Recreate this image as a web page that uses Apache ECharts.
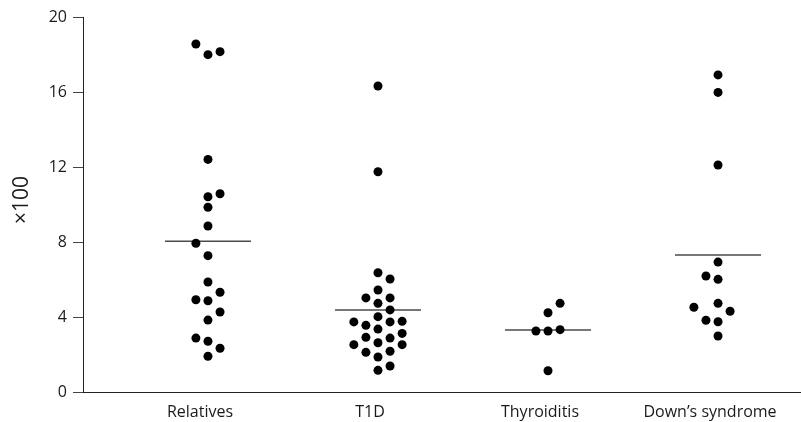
<!DOCTYPE html>
<html>
<head>
<meta charset="utf-8">
<script src="https://cdn.jsdelivr.net/npm/echarts@6/dist/echarts.min.js"></script>
<style>html,body{margin:0;padding:0;background:#fff}#c{width:801px;height:422px}</style>
</head>
<body>
<div id="c"></div>
<script>
const categories = ['Relatives', 'T1D', 'Thyroiditis', 'Down\u2019s syndrome'];
const yTicks = [0, 4, 8, 12, 16, 20];

const relativesValues = [18.58, 18.01, 18.17, 12.43, 10.44, 10.60, 9.88, 8.88, 7.96, 7.30, 5.90, 5.35, 4.95, 4.90, 4.30, 3.87, 2.91, 2.74, 2.37, 1.94];
const relativesCols   = [-1, 0, 1, 0, 0, 1, 0, 0, -1, 0, 0, 1, -1, 0, 1, 0, -1, 0, 1, 0];

const t1dValues = [16.34, 11.77, 6.39, 6.06, 5.47, 5.05, 5.05, 4.76, 4.41, 4.05, 3.77, 3.59, 3.77, 3.80, 3.39, 2.95, 2.91, 3.16, 2.66, 2.56, 2.56, 2.15, 2.21, 1.90, 1.19, 1.42];
const t1dCols   = [0, 0, 0, 1, 0, -1, 1, 0, 1, 0, -2, -1, 1, 2, 0, -1, 1, 2, 0, -2, 2, -1, 1, 0, 0, 1];

const thyroiditisValues = [4.76, 4.26, 3.29, 3.29, 3.36, 1.17];
const thyroiditisCols   = [1, 0, -1, 0, 1, 0];

const downsValues = [16.93, 16.00, 12.13, 6.96, 6.22, 6.04, 4.76, 4.55, 4.34, 3.86, 3.78, 3.02];
const downsCols   = [0, 0, 0, 0, -1, 0, 0, -2, 1, -1, 0, 0];

const meanValues = [8.07, 4.41, 3.34, 7.34];

const groups = [
  [relativesValues, relativesCols],
  [t1dValues, t1dCols],
  [thyroiditisValues, thyroiditisCols],
  [downsValues, downsCols]
];

const colStep = 0.071;
const meanHalf = 0.253;

const dots = [];
groups.forEach(function (g, i) {
  g[0].forEach(function (v, k) { dots.push([i + g[1][k] * colStep, v]); });
});

const meanSeries = meanValues.map(function (m, i) {
  return {
    type: 'line',
    data: [[i - meanHalf, m], [i + meanHalf, m]],
    symbol: 'none',
    lineStyle: { color: '#4a4a4a', width: 1.5 },
    silent: true,
    z: 1
  };
});

const chart = echarts.init(document.getElementById('c'));
chart.setOption({
  animation: false,
  backgroundColor: '#fff',
  textStyle: { fontFamily: 'Open Sans' },
  grid: { left: 83, right: 0, top: 17.3, bottom: 29.3, containLabel: false },
  xAxis: {
    type: 'value',
    position: 'bottom',
    min: -0.735,
    max: 3.488,
    splitLine: { show: false },
    axisTick: { show: false },
    axisLine: { show: true, onZero: false, lineStyle: { color: '#222', width: 1 } },
    axisLabel: {
      customValues: [0, 1, 2, 3],
      formatter: function (v) { return categories[Math.round(v)]; },
      fontSize: 16,
      color: '#1a1a1a',
      fontFamily: 'Open Sans',
      margin: 12,
      padding: [0, 16, 0, 0]
    }
  },
  yAxis: {
    type: 'value',
    position: 'left',
    min: 0,
    max: 20,
    interval: 4,
    name: '\u00d7100',
    nameLocation: 'middle',
    nameRotate: 90,
    nameGap: 50,
    nameTextStyle: { fontSize: 21, color: '#1a1a1a', fontFamily: 'Open Sans', padding: [0, 0, 0, 10] },
    splitLine: { show: false },
    axisLine: { show: true, onZero: false, lineStyle: { color: '#222', width: 1 } },
    axisTick: { show: true, inside: false, length: 10, lineStyle: { color: '#444', width: 1 } },
    axisLabel: {
      fontSize: 16,
      color: '#1a1a1a',
      margin: 16,
      fontFamily: 'Open Sans',
      formatter: function (v) { return yTicks.indexOf(v) >= 0 ? String(v) : ''; }
    }
  },
  series: meanSeries.concat([{
    type: 'scatter',
    data: dots,
    symbol: 'circle',
    symbolSize: 9,
    itemStyle: { color: '#000', opacity: 1 },
    z: 3
  }])
});
</script>
</body>
</html>
